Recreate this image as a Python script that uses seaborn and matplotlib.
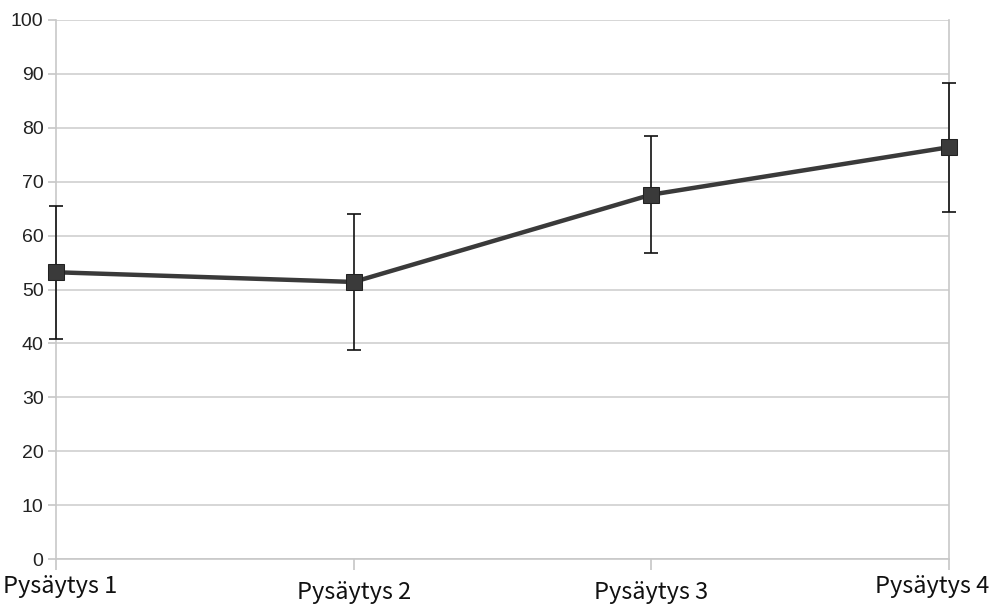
import matplotlib
matplotlib.use("Agg")
import matplotlib.pyplot as plt
import matplotlib.transforms as mtransforms
import seaborn as sns
import pandas as pd
import numpy as np

categories = ["Pysäytys 1", "Pysäytys 2", "Pysäytys 3", "Pysäytys 4"]
means = [53.2, 51.4, 67.6, 76.4]
upper = [65.4, 64.1, 78.4, 88.4]
lower = [40.9, 38.7, 56.7, 64.3]
yticks = list(range(0, 101, 10))

sns.set_theme(style="white")
plt.rcParams['font.family'] = ['Liberation Sans', 'DejaVu Sans']

fig = plt.figure(figsize=(9.92, 6.05), dpi=100)
ax = fig.add_axes([56/992, 46/605, 893/992, 539/605])

df = pd.DataFrame({"pos": np.arange(len(categories)), "value": means})
yerr = [np.array(means) - np.array(lower), np.array(upper) - np.array(means)]
eb = ax.errorbar(df["pos"], df["value"], yerr=yerr, fmt="none", ecolor="#111111",
                 elinewidth=1.2, capsize=5, capthick=1.2, zorder=3)
for art in eb.lines[1] + eb.lines[2]:
    art.set_clip_on(False)
sns.lineplot(data=df, x="pos", y="value", ax=ax, color="#3a3a3a", linewidth=3.2,
             marker="s", markersize=11, markerfacecolor="#3a3a3a",
             markeredgecolor="#222222", zorder=4, clip_on=False)

ax.set_xlim(0, 3)
ax.set_ylim(0, 100)
ax.set_yticks(yticks)
ax.set_yticklabels([str(t) for t in yticks], fontsize=14, color="#222222")
ax.set_xticks(df["pos"])
ax.set_xticklabels(categories, fontsize=17, color="#111111",
                   family=['Noto Sans CJK KR', 'DejaVu Sans'])
ax.set_xlabel("")
ax.set_ylabel("")
ax.yaxis.grid(True, color="#d0d0d0", linewidth=1.2)
ax.set_axisbelow(True)
ax.spines["top"].set_visible(False)
for s in ["left", "bottom", "right"]:
    ax.spines[s].set_color("#c8c8c8")
    ax.spines[s].set_linewidth(1.2)
ax.tick_params(axis="y", which="major", left=True, length=6, color="#c8c8c8", pad=3)
ax.tick_params(axis="x", which="major", bottom=True, length=8, color="#c8c8c8", pad=1)

# label offsets as in the reference (middle labels lower, outer labels kept inside)
offsets = {0: (4, -3), 1: (0, -10), 2: (0, -10), 3: (-17, -3)}
for i, lab in enumerate(ax.get_xticklabels()):
    dx, dy = offsets[i]
    lab.set_transform(lab.get_transform() + mtransforms.ScaledTranslation(dx/100, dy/100, fig.dpi_scale_trans))

fig.savefig("out.png", dpi=100)
